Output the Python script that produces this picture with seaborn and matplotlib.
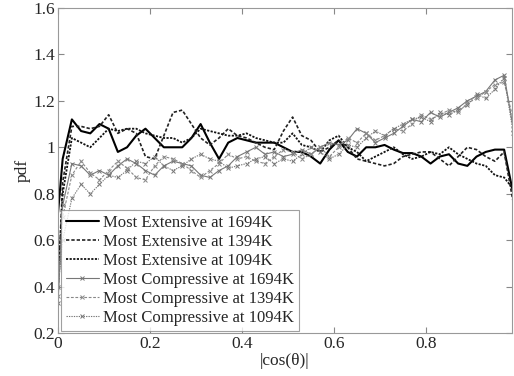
import numpy as np
import pandas as pd
import matplotlib
matplotlib.use("Agg")
import matplotlib.pyplot as plt
import seaborn as sns

x = [0.0, 0.01, 0.03, 0.05, 0.07, 0.09, 0.11, 0.13, 0.15, 0.17, 0.19, 0.21, 0.23, 0.25,
     0.27, 0.29, 0.31, 0.33, 0.35, 0.37, 0.39, 0.41, 0.43, 0.45, 0.47, 0.49, 0.51, 0.53,
     0.55, 0.57, 0.59, 0.61, 0.63, 0.65, 0.67, 0.69, 0.71, 0.73, 0.75, 0.77, 0.79, 0.81,
     0.83, 0.85, 0.87, 0.89, 0.91, 0.93, 0.95, 0.97, 0.99]

ext_1694 = [0.72, 0.95, 1.12, 1.07, 1.06, 1.10, 1.08, 0.98, 1.00, 1.05, 1.08, 1.04, 1.00, 1.00,
            1.00, 1.04, 1.10, 1.02, 0.95, 1.02, 1.04, 1.03, 1.02, 1.02, 1.02, 1.00, 0.98, 0.98,
            0.96, 0.93, 0.99, 1.03, 0.98, 0.96, 1.00, 1.00, 1.01, 0.99, 0.975, 0.975, 0.96, 0.93,
            0.96, 0.97, 0.93, 0.92, 0.96, 0.98, 0.99, 0.99, 0.80]
ext_1394 = [0.40, 0.85, 1.09, 1.09, 1.08, 1.09, 1.14, 1.06, 1.08, 1.06, 0.96, 0.95, 1.05, 1.15,
            1.16, 1.10, 1.04, 1.01, 1.04, 1.08, 1.05, 1.04, 1.02, 1.00, 0.99, 1.07, 1.13, 1.05,
            1.03, 0.98, 1.00, 1.03, 1.00, 0.95, 0.94, 0.93, 0.92, 0.93, 0.96, 0.97, 0.98, 0.98,
            0.95, 0.92, 0.96, 1.00, 0.99, 0.96, 0.94, 0.98, 0.76]
ext_1094 = [0.40, 0.80, 1.04, 1.02, 1.00, 1.04, 1.08, 1.07, 1.08, 1.08, 1.06, 1.05, 1.04, 1.04,
            1.02, 1.04, 1.08, 1.07, 1.06, 1.05, 1.05, 1.06, 1.04, 1.03, 1.02, 1.02, 1.06, 1.01,
            1.00, 0.98, 1.03, 1.05, 1.00, 0.98, 0.94, 0.96, 0.98, 1.00, 0.97, 0.95, 0.96, 0.98,
            0.97, 1.00, 0.97, 0.95, 0.93, 0.92, 0.88, 0.87, 0.82]
comp_1694 = [0.33, 0.75, 0.93, 0.92, 0.88, 0.90, 0.88, 0.92, 0.95, 0.93, 0.90, 0.88, 0.92, 0.94,
             0.93, 0.92, 0.88, 0.87, 0.90, 0.92, 0.96, 0.98, 1.00, 0.97, 0.98, 0.96, 0.97, 0.99,
             0.97, 1.00, 1.02, 1.01, 1.03, 1.08, 1.06, 1.02, 1.04, 1.06, 1.09, 1.12, 1.11, 1.15,
             1.13, 1.15, 1.17, 1.20, 1.22, 1.24, 1.29, 1.31, 1.08]
comp_1394 = [0.36, 0.70, 0.88, 0.94, 0.89, 0.86, 0.90, 0.94, 0.91, 0.87, 0.86, 0.92, 0.96, 0.95,
             0.93, 0.90, 0.87, 0.90, 0.93, 0.97, 0.95, 0.96, 0.94, 0.93, 0.96, 0.99, 0.98, 0.95,
             0.97, 1.00, 0.96, 1.00, 1.04, 1.02, 1.06, 1.03, 1.05, 1.08, 1.07, 1.10, 1.14, 1.12,
             1.14, 1.16, 1.15, 1.19, 1.21, 1.24, 1.27, 1.28, 1.12]
comp_1094 = [0.40, 0.60, 0.78, 0.84, 0.80, 0.84, 0.88, 0.87, 0.90, 0.94, 0.93, 0.96, 0.92, 0.90,
             0.92, 0.95, 0.97, 0.95, 0.94, 0.91, 0.92, 0.93, 0.95, 0.96, 0.93, 0.95, 0.94, 0.97,
             1.00, 0.98, 0.95, 0.97, 1.01, 1.00, 1.04, 1.07, 1.05, 1.08, 1.10, 1.12, 1.13, 1.11,
             1.15, 1.14, 1.16, 1.18, 1.23, 1.21, 1.25, 1.30, 1.06]

labels = ["Most Extensive at 1694K", "Most Extensive at 1394K", "Most Extensive at 1094K",
          "Most Compressive at 1694K", "Most Compressive at 1394K", "Most Compressive at 1094K"]
series = [ext_1694, ext_1394, ext_1094, comp_1694, comp_1394, comp_1094]

sns.set_style("ticks")
plt.rcParams["font.family"] = ["Liberation Serif", "DejaVu Serif"]

fig = plt.figure(figsize=(5.14, 3.76), dpi=100)
ax = fig.add_axes([0.113, 0.114, 0.883, 0.865])

styles = [
    dict(color="black", linestyle="-", linewidth=1.5, marker=None),
    dict(color="#222222", linestyle=(0, (2.0, 1.2)), linewidth=1.2, marker=None),
    dict(color="#111111", linestyle=(0, (1.2, 0.8)), linewidth=1.3, marker=None),
    dict(color="#777777", linestyle="-", linewidth=0.8, marker="x", markersize=3.5),
    dict(color="#888888", linestyle=(0, (2.5, 1.5)), linewidth=0.8, marker="x", markersize=3.5),
    dict(color="#777777", linestyle=(0, (1.2, 1.0)), linewidth=0.8, marker="x", markersize=3.5),
]

for vals, lab, st in zip(series, labels, styles):
    df = pd.DataFrame({"x": x, "pdf": vals})
    kw = dict(st)
    mk = kw.pop("marker")
    if mk is not None:
        sns.lineplot(data=df, x="x", y="pdf", ax=ax, label=lab, marker=mk,
                     markeredgewidth=0.7, markeredgecolor=kw["color"], **kw)
    else:
        sns.lineplot(data=df, x="x", y="pdf", ax=ax, label=lab, **kw)

ax.set_xlim(0, 0.987)
ax.set_ylim(0.2, 1.6)
ax.set_xticks([0, 0.2, 0.4, 0.6, 0.8])
ax.set_xticklabels(["0", "0.2", "0.4", "0.6", "0.8"])
ax.set_yticks([0.2, 0.4, 0.6, 0.8, 1.0, 1.2, 1.4, 1.6])
ax.set_yticklabels(["0.2", "0.4", "0.6", "0.8", "1", "1.2", "1.4", "1.6"])
ax.tick_params(direction="in", top=True, right=True, labelsize=12.5, length=4,
               color="#888888", pad=2)
for s in ax.spines.values():
    s.set_color("#999999")
    s.set_linewidth(0.8)
ax.set_xlabel("|cos(θ)|", fontsize=12.5, labelpad=1)
ax.set_ylabel("pdf", fontsize=12.5, labelpad=2)

leg = ax.legend(loc="lower left", fontsize=12, handlelength=2.0, handletextpad=0.25,
                borderpad=0.3, labelspacing=0.18, frameon=True, fancybox=False,
                borderaxespad=0.15)
leg.get_frame().set_edgecolor("#888888")
leg.get_frame().set_linewidth(0.8)

fig.savefig("out.png", dpi=100)
